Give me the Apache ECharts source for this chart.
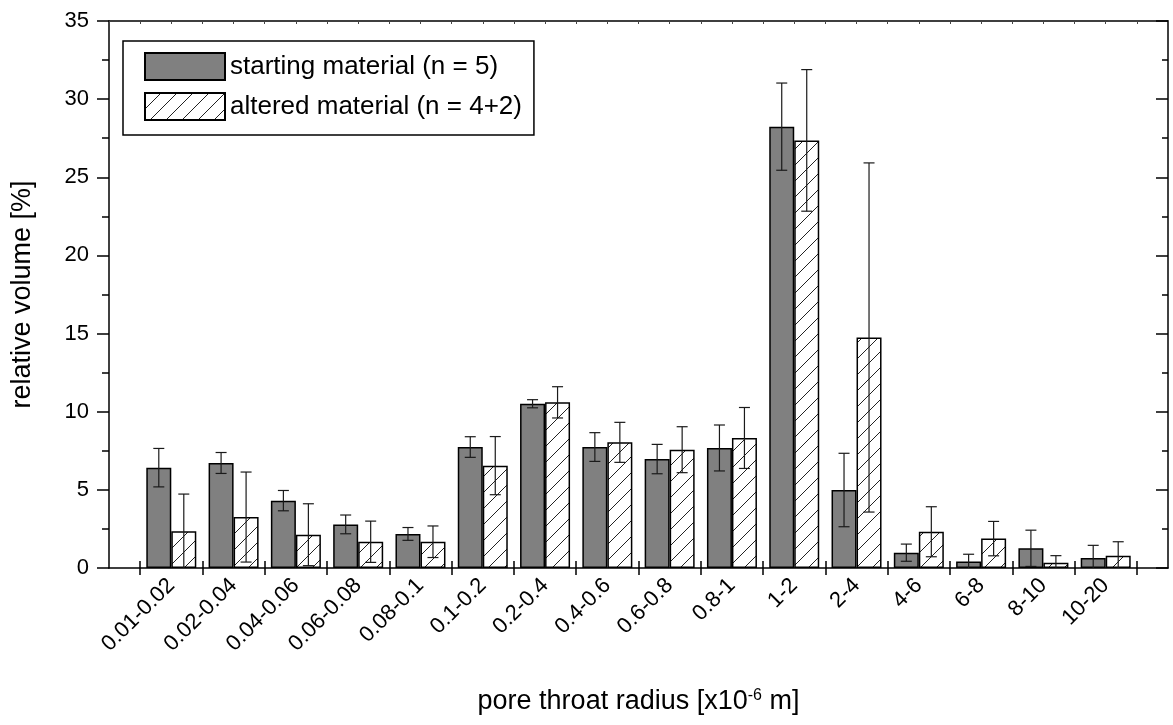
<!DOCTYPE html>
<html>
<head>
<meta charset="utf-8">
<script src="https://cdn.jsdelivr.net/npm/echarts@6.0.0/dist/echarts.min.js"></script>
<style>
  html, body { margin: 0; padding: 0; background: #fff; }
  #chart { width: 1173px; height: 725px; }
</style>
</head>
<body>
<div id="chart"></div>
<script>
// pore throat radius classes [x10^-6 m]
var categories = ['0.01-0.02', '0.02-0.04', '0.04-0.06', '0.06-0.08', '0.08-0.1', '0.1-0.2', '0.2-0.4',
  '0.4-0.6', '0.6-0.8', '0.8-1', '1-2', '2-4', '4-6', '6-8', '8-10', '10-20']
// relative volume [%], mean and standard deviation
var startMean = [6.42, 6.72, 4.31, 2.79, 2.18, 7.74, 10.51, 7.74, 6.97, 7.68, 28.24, 4.99, 0.98, 0.41, 1.26, 0.64]
var startErr = [1.23, 0.67, 0.65, 0.6, 0.41, 0.66, 0.26, 0.92, 0.94, 1.47, 2.79, 2.35, 0.55, 0.47, 1.16, 0.81]
var altMean = [2.35, 3.26, 2.13, 1.68, 1.68, 6.55, 10.6, 8.04, 7.57, 8.32, 27.36, 14.75, 2.32, 1.88, 0.34, 0.79]
var altErr = [2.38, 2.88, 1.98, 1.32, 1.01, 1.86, 1.0, 1.28, 1.47, 1.95, 4.53, 11.17, 1.6, 1.1, 0.45, 0.89]
var yTicks = [0, 5, 10, 15, 20, 25, 30, 35]

var FONT = 'Liberation Sans, Arial, sans-serif'
var BAR_W = 25

// diagonal hatch for the altered material
function makeHatch() {
  var s = 16
  var c = document.createElement('canvas')
  c.width = s
  c.height = s
  var ctx = c.getContext('2d')
  ctx.fillStyle = '#fff'
  ctx.fillRect(0, 0, s, s)
  ctx.strokeStyle = '#222'
  ctx.lineWidth = 1
  ctx.beginPath()
  ctx.moveTo(0, s)
  ctx.lineTo(s, 0)
  ctx.moveTo(-1, 1)
  ctx.lineTo(1, -1)
  ctx.moveTo(s - 1, s + 1)
  ctx.lineTo(s + 1, s - 1)
  ctx.stroke()
  return c
}

function toPairs(values) {
  return values.map(function (v, i) { return [i + 1, v] })
}
function toErr(values, errs) {
  return values.map(function (v, i) { return [i + 1, v, errs[i]] })
}

// error bars: vertical line with caps, shifted onto its bar
function errorRenderer(shift) {
  return function (params, api) {
    var x = api.value(0)
    var m = api.value(1)
    var e = api.value(2)
    var top = api.coord([x, m + e])
    var bot = api.coord([x, m - e])
    var cx = top[0] + shift
    var half = 5.5
    var style = { stroke: '#1a1a1a', lineWidth: 1.2 }
    return {
      type: 'group',
      children: [
        { type: 'line', shape: { x1: cx, y1: top[1], x2: cx, y2: bot[1] }, style: style },
        { type: 'line', shape: { x1: cx - half, y1: top[1], x2: cx + half, y2: top[1] }, style: style },
        { type: 'line', shape: { x1: cx - half, y1: bot[1], x2: cx + half, y2: bot[1] }, style: style }
      ]
    }
  }
}

var boundaries = []
for (var k = 0; k < categories.length + 1; k++) boundaries.push(k + 0.5)
var centers = categories.map(function (c, i) { return i + 1 })

var chart = echarts.init(document.getElementById('chart'), null, { renderer: 'canvas' })

var axisLine = { show: true, onZero: false, lineStyle: { color: '#000', width: 1.5 } }

var option = {
  animation: false,
  backgroundColor: '#fff',
  textStyle: { fontFamily: FONT },
  grid: { left: 109, right: 5, top: 21, bottom: 157, outerBoundsMode: 'none' },
  legend: {
    orient: 'vertical',
    left: 123,
    top: 41,
    padding: [11, 12, 14, 21],
    itemGap: 11,
    itemWidth: 80,
    itemHeight: 27,
    icon: 'rect',
    borderColor: '#000',
    borderWidth: 1.5,
    backgroundColor: '#fff',
    textStyle: { fontSize: 26, color: '#000', fontFamily: FONT },
    data: ['starting material (n = 5)', 'altered material (n = 4+2)']
  },
  xAxis: [
    {
      type: 'value',
      position: 'bottom',
      min: 0,
      max: 17,
      axisLine: axisLine,
      splitLine: { show: false },
      axisTick: { show: true, inside: false, length: 7, customValues: boundaries, lineStyle: { color: '#000', width: 1.5 } },
      axisLabel: {
        customValues: centers,
        rotate: 45,
        margin: 14,
        fontSize: 22,
        color: '#000',
        fontFamily: FONT,
        formatter: function (v) { return categories[Math.round(v) - 1] }
      },
      name: 'pore throat radius [x10{sup|-6} m]',
      nameLocation: 'middle',
      nameGap: 120,
      nameTextStyle: {
        fontSize: 27,
        color: '#000',
        fontFamily: FONT,
        rich: { sup: { fontSize: 16, lineHeight: 16, verticalAlign: 'top', color: '#000', fontFamily: FONT } }
      }
    },
    {
      type: 'value',
      position: 'bottom',
      min: 0,
      max: 17,
      axisLine: { show: false },
      splitLine: { show: false },
      axisTick: { show: true, inside: true, length: 7, customValues: boundaries, lineStyle: { color: '#000', width: 1.5 } },
      axisLabel: { show: false }
    },
    {
      type: 'value',
      position: 'top',
      min: 0,
      max: 17,
      interval: 0.5,
      axisLine: axisLine,
      splitLine: { show: false },
      axisTick: { show: true, inside: true, length: 3, lineStyle: { color: '#444', width: 1 } },
      axisLabel: { show: false }
    }
  ],
  yAxis: [
    {
      type: 'value',
      position: 'left',
      min: yTicks[0],
      max: yTicks[yTicks.length - 1],
      interval: 5,
      axisLine: axisLine,
      splitLine: { show: false },
      axisTick: { show: true, inside: false, length: 12, lineStyle: { color: '#000', width: 1.5 } },
      minorTick: { show: true, splitNumber: 2, length: 7, lineStyle: { color: '#000', width: 1.5 } },
      axisLabel: { margin: 20, fontSize: 22, color: '#000', fontFamily: FONT },
      name: 'relative volume [%]',
      nameLocation: 'middle',
      nameRotate: 90,
      nameGap: 73,
      nameTextStyle: { fontSize: 27, color: '#000', fontFamily: FONT }
    },
    {
      type: 'value',
      position: 'right',
      min: yTicks[0],
      max: yTicks[yTicks.length - 1],
      interval: 5,
      axisLine: axisLine,
      splitLine: { show: false },
      axisTick: { show: true, inside: true, length: 12, lineStyle: { color: '#000', width: 1.5 } },
      minorTick: { show: true, splitNumber: 2, length: 6, lineStyle: { color: '#000', width: 1.5 } },
      axisLabel: { show: false }
    }
  ],
  series: [
    {
      name: 'starting material (n = 5)',
      type: 'bar',
      xAxisIndex: 0,
      yAxisIndex: 0,
      barWidth: BAR_W,
      barGap: '0%',
      itemStyle: { color: '#808080', borderColor: '#000', borderWidth: 1.5 },
      data: toPairs(startMean),
      z: 2
    },
    {
      name: 'altered material (n = 4+2)',
      type: 'bar',
      xAxisIndex: 0,
      yAxisIndex: 0,
      barWidth: BAR_W,
      barGap: '0%',
      itemStyle: { color: { image: makeHatch(), repeat: 'repeat' }, borderColor: '#000', borderWidth: 1.5 },
      data: toPairs(altMean),
      z: 2
    },
    {
      type: 'custom',
      xAxisIndex: 0,
      yAxisIndex: 0,
      renderItem: errorRenderer(-BAR_W / 2),
      encode: { x: 0, y: 1 },
      data: toErr(startMean, startErr),
      clip: true,
      z: 5
    },
    {
      type: 'custom',
      xAxisIndex: 0,
      yAxisIndex: 0,
      renderItem: errorRenderer(BAR_W / 2),
      encode: { x: 0, y: 1 },
      data: toErr(altMean, altErr),
      clip: true,
      z: 5
    }
  ]
}

chart.setOption(option)
</script>
</body>
</html>
